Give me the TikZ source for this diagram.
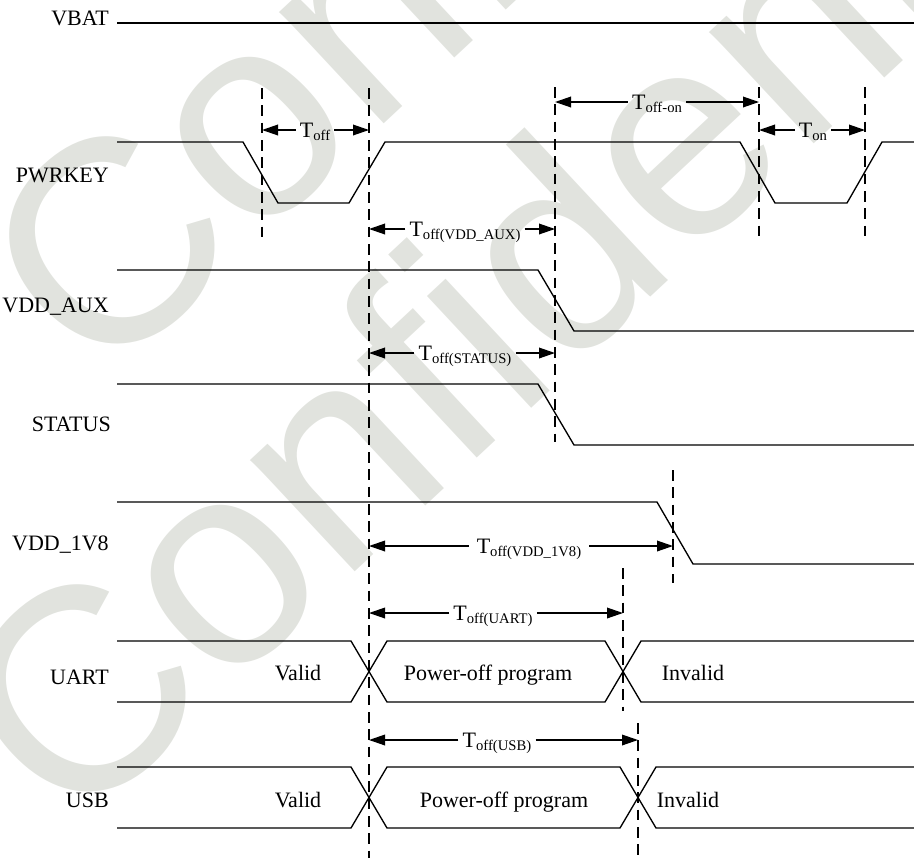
\documentclass[tikz,border=0pt]{standalone}
\usepackage{fontspec}
\setmainfont{Liberation Serif}
\newfontfamily\wmfont{Liberation Sans}
\usetikzlibrary{arrows.meta}
\definecolor{wmgrey}{RGB}{225,227,222}
% subscripted timing symbol
\newcommand\tsub[1]{T\raisebox{-2.5pt}{\fontsize{11}{12}\selectfont #1}}
\begin{document}
\begin{tikzpicture}[x=0.75pt,y=-0.75pt,
  sig/.style={line width=1pt},
  guide/.style={line width=1pt, dash pattern=on 8pt off 5pt},
  dim/.style={line width=1pt, -{Triangle[length=12pt,width=8pt]}},
  lbl/.style={anchor=base east, font=\fontsize{16.5}{18}\selectfont, inner sep=0pt},
  txt/.style={anchor=base, font=\fontsize{16.5}{18}\selectfont, inner sep=0pt},
  tlab/.style={anchor=base, font=\fontsize{16.5}{18}\selectfont, inner sep=3pt},
  wm/.style={anchor=base west, rotate=43, text=wmgrey,
             font=\wmfont\fontsize{217}{217}\selectfont, inner sep=0pt}]
\useasboundingbox (0,0) rectangle (914,861);

% background watermark
\begin{scope}
  \clip (0,0) rectangle (914,861);
  \node[wm] (wmA) at (70,838) {Confidential};
  \node[wm] (wmB) at (99,390) {Confidential};
\end{scope}

% signal names
\node[lbl] (nVBAT)   at (109,25)  {VBAT};
\node[lbl] (nPWR)    at (109,182) {PWRKEY};
\node[lbl] (nAUX)    at (109,312) {VDD\_AUX};
\node[lbl] (nSTAT)   at (111,431) {STATUS};
\node[lbl] (n1V8)    at (109,550) {VDD\_1V8};
\node[lbl] (nUART)   at (109,684) {UART};
\node[lbl] (nUSB)    at (109,807) {USB};

% waveforms
\draw[sig] (117,23) -- (914,23);
\draw[sig] (117,142) -- (243,142) -- (278,203) -- (349,203) -- (385,142)
           -- (740,142) -- (775,203) -- (847,203) -- (882,142) -- (914,142);
\draw[sig] (117,270) -- (538,270) -- (574,331) -- (914,331);
\draw[sig] (117,384) -- (538,384) -- (574,445) -- (914,445);
\draw[sig] (117,502) -- (657,502) -- (693,564) -- (914,564);

% UART bus
\draw[sig] (117,641) -- (351,641) -- (387,702) -- (605,702) -- (641,641) -- (914,641);
\draw[sig] (117,702) -- (351,702) -- (387,641) -- (605,641) -- (641,702) -- (914,702);
\node[txt] (uV) at (298,680) {Valid};
\node[txt] (uP) at (488,680) {Power-off program};
\node[txt] (uI) at (693,680) {Invalid};

% USB bus
\draw[sig] (117,767) -- (351,767) -- (387,828) -- (620,828) -- (656,767) -- (914,767);
\draw[sig] (117,828) -- (351,828) -- (387,767) -- (620,767) -- (656,828) -- (914,828);
\node[txt] (sV) at (298,807) {Valid};
\node[txt] (sP) at (504,807) {Power-off program};
\node[txt] (sI) at (688,807) {Invalid};

% timing guides
\draw[guide] (262,88) -- (262,240);
\draw[guide] (369,88) -- (369,858);
\draw[guide] (555,87) -- (555,442);
\draw[guide] (759,87) -- (759,240);
\draw[guide] (865,87) -- (865,240);
\draw[guide] (673,470) -- (673,583);
\draw[guide] (623,568) -- (623,711);
\draw[guide] (638,723) -- (638,858);

% dimension arrows
\coordinate (aL) at (262,130); \coordinate (aR) at (369,130);
\node[tlab] (tOff) at (315,137) {\tsub{off}};
\draw[dim] (tOff.west |- aL) -- (aL);
\draw[dim] (tOff.east |- aR) -- (aR);

\coordinate (bL) at (555,102); \coordinate (bR) at (759,102);
\node[tlab] (tOffOn) at (657,109) {\tsub{off-on}};
\draw[dim] (tOffOn.west |- bL) -- (bL);
\draw[dim] (tOffOn.east |- bR) -- (bR);

\coordinate (cL) at (759,130); \coordinate (cR) at (865,130);
\node[tlab] (tOn) at (813,137) {\tsub{on}};
\draw[dim] (tOn.west |- cL) -- (cL);
\draw[dim] (tOn.east |- cR) -- (cR);

\coordinate (dL) at (369,229); \coordinate (dR) at (555,229);
\node[tlab] (tAux) at (465,236) {\tsub{off(VDD\_AUX)}};
\draw[dim] (tAux.west |- dL) -- (dL);
\draw[dim] (tAux.east |- dR) -- (dR);

\coordinate (eL) at (369,353); \coordinate (eR) at (555,353);
\node[tlab] (tStat) at (465,360) {\tsub{off(STATUS)}};
\draw[dim] (tStat.west |- eL) -- (eL);
\draw[dim] (tStat.east |- eR) -- (eR);

\coordinate (fL) at (369,546); \coordinate (fR) at (673,546);
\node[tlab, inner sep=6pt] (t1V8) at (529,553) {\tsub{off(VDD\_1V8)}};
\draw[dim] (t1V8.west |- fL) -- (fL);
\draw[dim] (t1V8.east |- fR) -- (fR);

\coordinate (gL) at (369,613); \coordinate (gR) at (623,613);
\node[tlab] (tUart) at (493,620) {\tsub{off(UART)}};
\draw[dim] (tUart.west |- gL) -- (gL);
\draw[dim] (tUart.east |- gR) -- (gR);

\coordinate (hL) at (369,740); \coordinate (hR) at (638,740);
\node[tlab] (tUsb) at (497,747) {\tsub{off(USB)}};
\draw[dim] (tUsb.west |- hL) -- (hL);
\draw[dim] (tUsb.east |- hR) -- (hR);
\end{tikzpicture}
\end{document}
